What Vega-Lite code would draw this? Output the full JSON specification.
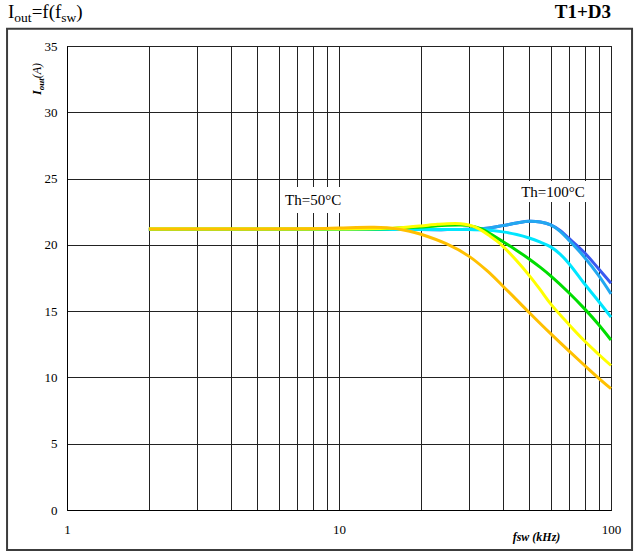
{
  "$schema": "https://vega.github.io/schema/vega-lite/v6.json",
  "width": 544,
  "height": 464,
  "autosize": {"type": "none"},
  "padding": {"left": 67, "top": 46, "right": 29, "bottom": 50},
  "background": "white",
  "config": {
    "font": "Liberation Serif",
    "view": {"stroke": "#000", "strokeWidth": 1},
    "text": {"font": "Liberation Serif", "color": "#000"}
  },
  "datasets": {
    "curves": [
      {"Th": 100, "f": 2, "I": 21.15}, {"Th": 100, "f": 5, "I": 21.15}, {"Th": 100, "f": 10, "I": 21.15}, {"Th": 100, "f": 20, "I": 21.15}, {"Th": 100, "f": 25, "I": 21.15}, {"Th": 100, "f": 30, "I": 21.17}, {"Th": 100, "f": 35, "I": 21.25}, {"Th": 100, "f": 40, "I": 21.45}, {"Th": 100, "f": 45, "I": 21.65}, {"Th": 100, "f": 50, "I": 21.78}, {"Th": 100, "f": 55, "I": 21.72}, {"Th": 100, "f": 60, "I": 21.5}, {"Th": 100, "f": 65, "I": 21.08}, {"Th": 100, "f": 70, "I": 20.5}, {"Th": 100, "f": 80, "I": 19.4}, {"Th": 100, "f": 90, "I": 18.2}, {"Th": 100, "f": 100, "I": 17.1},
      {"Th": 90, "f": 2, "I": 21.15}, {"Th": 90, "f": 5, "I": 21.15}, {"Th": 90, "f": 10, "I": 21.15}, {"Th": 90, "f": 20, "I": 21.15}, {"Th": 90, "f": 25, "I": 21.15}, {"Th": 90, "f": 30, "I": 21.17}, {"Th": 90, "f": 35, "I": 21.25}, {"Th": 90, "f": 40, "I": 21.45}, {"Th": 90, "f": 45, "I": 21.65}, {"Th": 90, "f": 50, "I": 21.78}, {"Th": 90, "f": 55, "I": 21.72}, {"Th": 90, "f": 60, "I": 21.5}, {"Th": 90, "f": 65, "I": 21.02}, {"Th": 90, "f": 70, "I": 20.35}, {"Th": 90, "f": 80, "I": 19.05}, {"Th": 90, "f": 90, "I": 17.7}, {"Th": 90, "f": 100, "I": 16.3},
      {"Th": 80, "f": 2, "I": 21.15}, {"Th": 80, "f": 5, "I": 21.15}, {"Th": 80, "f": 10, "I": 21.15}, {"Th": 80, "f": 20, "I": 21.15}, {"Th": 80, "f": 30, "I": 21.15}, {"Th": 80, "f": 35, "I": 21.12}, {"Th": 80, "f": 40, "I": 20.98}, {"Th": 80, "f": 45, "I": 20.78}, {"Th": 80, "f": 50, "I": 20.52}, {"Th": 80, "f": 55, "I": 20.2}, {"Th": 80, "f": 60, "I": 19.85}, {"Th": 80, "f": 65, "I": 19.3}, {"Th": 80, "f": 70, "I": 18.6}, {"Th": 80, "f": 80, "I": 17.05}, {"Th": 80, "f": 90, "I": 15.75}, {"Th": 80, "f": 100, "I": 14.55},
      {"Th": 70, "f": 2, "I": 21.2}, {"Th": 70, "f": 5, "I": 21.2}, {"Th": 70, "f": 10, "I": 21.2}, {"Th": 70, "f": 15, "I": 21.22}, {"Th": 70, "f": 20, "I": 21.35}, {"Th": 70, "f": 25, "I": 21.48}, {"Th": 70, "f": 28, "I": 21.5}, {"Th": 70, "f": 30, "I": 21.45}, {"Th": 70, "f": 33, "I": 21.25}, {"Th": 70, "f": 35, "I": 20.98}, {"Th": 70, "f": 40, "I": 20.25}, {"Th": 70, "f": 45, "I": 19.58}, {"Th": 70, "f": 50, "I": 18.94}, {"Th": 70, "f": 55, "I": 18.3}, {"Th": 70, "f": 60, "I": 17.66}, {"Th": 70, "f": 70, "I": 16.39}, {"Th": 70, "f": 80, "I": 15.17}, {"Th": 70, "f": 90, "I": 13.99}, {"Th": 70, "f": 100, "I": 12.82},
      {"Th": 60, "f": 2, "I": 21.2}, {"Th": 60, "f": 5, "I": 21.2}, {"Th": 60, "f": 10, "I": 21.2}, {"Th": 60, "f": 15, "I": 21.25}, {"Th": 60, "f": 18, "I": 21.35}, {"Th": 60, "f": 20, "I": 21.43}, {"Th": 60, "f": 23, "I": 21.55}, {"Th": 60, "f": 25, "I": 21.6}, {"Th": 60, "f": 28, "I": 21.6}, {"Th": 60, "f": 30, "I": 21.5}, {"Th": 60, "f": 32, "I": 21.3}, {"Th": 60, "f": 34, "I": 21.0}, {"Th": 60, "f": 36, "I": 20.65}, {"Th": 60, "f": 38, "I": 20.3}, {"Th": 60, "f": 40, "I": 19.9}, {"Th": 60, "f": 45, "I": 18.8}, {"Th": 60, "f": 50, "I": 17.7}, {"Th": 60, "f": 55, "I": 16.6}, {"Th": 60, "f": 60, "I": 15.55}, {"Th": 60, "f": 70, "I": 14.0}, {"Th": 60, "f": 80, "I": 12.75}, {"Th": 60, "f": 90, "I": 11.75}, {"Th": 60, "f": 100, "I": 10.9},
      {"Th": 50, "f": 2, "I": 21.2}, {"Th": 50, "f": 5, "I": 21.2}, {"Th": 50, "f": 8, "I": 21.22}, {"Th": 50, "f": 10, "I": 21.27}, {"Th": 50, "f": 13, "I": 21.33}, {"Th": 50, "f": 15, "I": 21.3}, {"Th": 50, "f": 18, "I": 21.05}, {"Th": 50, "f": 20, "I": 20.8}, {"Th": 50, "f": 25, "I": 20.05}, {"Th": 50, "f": 30, "I": 19.15}, {"Th": 50, "f": 35, "I": 18.05}, {"Th": 50, "f": 40, "I": 16.9}, {"Th": 50, "f": 45, "I": 15.85}, {"Th": 50, "f": 50, "I": 14.9}, {"Th": 50, "f": 60, "I": 13.3}, {"Th": 50, "f": 70, "I": 12.0}, {"Th": 50, "f": 80, "I": 10.9}, {"Th": 50, "f": 90, "I": 9.95}, {"Th": 50, "f": 100, "I": 9.15}
    ],
    "notes": [
      {"label": "Th=50°C", "f": 8.03, "v": 23.38, "f0": 6.17, "f1": 10.26, "v0": 22.4, "v1": 24.36},
      {"label": "Th=100°C", "f": 61.2, "v": 24.02, "f0": 45.5, "f1": 81.5, "v0": 23.23, "v1": 24.82}
    ]
  },
  "layer": [
    {
      "data": {"name": "curves"},
      "mark": {"type": "line", "strokeWidth": 3, "interpolate": "catmull-rom"},
      "encoding": {
        "x": {
          "field": "f", "type": "quantitative",
          "scale": {"type": "log", "domain": [1, 100], "nice": false},
          "axis": {
            "values": [1, 2, 3, 4, 5, 6, 7, 8, 9, 10, 20, 30, 40, 50, 60, 70, 80, 90, 100],
            "labelExpr": "indexof([1, 10, 100], datum.value) >= 0 ? format(datum.value, 'd') : ''",
            "labelOverlap": false, "labelFlush": false,
            "ticks": false, "domainColor": "#000", "domainWidth": 1,
            "grid": true, "gridColor": "#222", "gridWidth": 1, "gridOpacity": 1,
            "labelFont": "Liberation Serif", "labelFontSize": 13, "labelColor": "#000", "labelPadding": 13,
            "title": "fsw (kHz)", "titleFont": "Liberation Serif", "titleFontStyle": "italic", "titleFontWeight": "bold",
            "titleFontSize": 12, "titleColor": "#000", "titleX": 469, "titleY": 26, "titleAlign": "center", "titleBaseline": "middle"
          }
        },
        "y": {
          "field": "I", "type": "quantitative",
          "scale": {"domain": [0, 35], "nice": false, "zero": false},
          "axis": {
            "values": [0, 5, 10, 15, 20, 25, 30, 35],
            "ticks": false, "domainColor": "#000", "domainWidth": 1,
            "grid": true, "gridColor": "#222", "gridWidth": 1, "gridOpacity": 1,
            "labelFont": "Liberation Serif", "labelFontSize": 13, "labelColor": "#000", "labelPadding": 10, "labelFlush": false,
            "title": null
          }
        },
        "color": {
          "field": "Th", "type": "nominal",
          "scale": {"domain": [100, 90, 80, 70, 60, 50], "range": ["#3a5af0", "#22a8f0", "#00e6ff", "#00dd00", "#ffff00", "#ffc000"]},
          "legend": null
        }
      }
    },
    {
      "data": {"name": "notes"},
      "mark": {"type": "rect", "fill": "white", "stroke": null},
      "encoding": {
        "x": {"field": "f0", "type": "quantitative"},
        "x2": {"field": "f1"},
        "y": {"field": "v0", "type": "quantitative"},
        "y2": {"field": "v1"}
      }
    },
    {
      "data": {"name": "notes"},
      "mark": {"type": "text", "fontSize": 15, "align": "center", "baseline": "middle", "font": "Liberation Serif", "color": "#000"},
      "encoding": {
        "x": {"field": "f", "type": "quantitative"},
        "y": {"field": "v", "type": "quantitative"},
        "text": {"field": "label"}
      }
    },
    {
      "data": {"values": [{}]},
      "mark": {"type": "rect", "fillOpacity": 0, "stroke": "#3c3c3c", "strokeWidth": 2},
      "encoding": {
        "x": {"datum": 0.602, "type": "quantitative"},
        "x2": {"datum": 119.5},
        "y": {"datum": 36.3, "type": "quantitative"},
        "y2": {"datum": -3.02}
      }
    },
    {
      "data": {"values": [{}]},
      "mark": {"type": "text", "text": "I", "fontSize": 19, "align": "left", "baseline": "alphabetic", "dx": 0},
      "encoding": {"x": {"datum": 0.607, "type": "quantitative"}, "y": {"datum": 37.11, "type": "quantitative"}}
    },
    {
      "data": {"values": [{}]},
      "mark": {"type": "text", "text": "out", "fontSize": 13.5, "align": "left", "baseline": "alphabetic", "dx": 6.3, "dy": 4},
      "encoding": {"x": {"datum": 0.607, "type": "quantitative"}, "y": {"datum": 37.11, "type": "quantitative"}}
    },
    {
      "data": {"values": [{}]},
      "mark": {"type": "text", "text": "=f(f", "fontSize": 19, "align": "left", "baseline": "alphabetic", "dx": 23.6},
      "encoding": {"x": {"datum": 0.607, "type": "quantitative"}, "y": {"datum": 37.11, "type": "quantitative"}}
    },
    {
      "data": {"values": [{}]},
      "mark": {"type": "text", "text": "sw", "fontSize": 13.5, "align": "left", "baseline": "alphabetic", "dx": 53.3, "dy": 4},
      "encoding": {"x": {"datum": 0.607, "type": "quantitative"}, "y": {"datum": 37.11, "type": "quantitative"}}
    },
    {
      "data": {"values": [{}]},
      "mark": {"type": "text", "text": ")", "fontSize": 19, "align": "left", "baseline": "alphabetic", "dx": 68.3},
      "encoding": {"x": {"datum": 0.607, "type": "quantitative"}, "y": {"datum": 37.11, "type": "quantitative"}}
    },
    {
      "data": {"values": [{}]},
      "mark": {"type": "text", "text": "T1+D3", "fontSize": 19, "fontWeight": "bold", "align": "right", "baseline": "alphabetic"},
      "encoding": {"x": {"datum": 100, "type": "quantitative"}, "y": {"datum": 37.11, "type": "quantitative"}}
    },
    {
      "data": {"values": [{}]},
      "mark": {"type": "text", "text": "I", "fontSize": 12, "fontStyle": "italic", "fontWeight": "bold", "angle": 270, "align": "left", "baseline": "alphabetic"},
      "encoding": {"x": {"datum": 0.8025, "type": "quantitative"}, "y": {"datum": 31.3, "type": "quantitative"}}
    },
    {
      "data": {"values": [{}]},
      "mark": {"type": "text", "text": "out", "fontSize": 9, "fontStyle": "italic", "fontWeight": "bold", "angle": 270, "align": "left", "baseline": "alphabetic", "dx": 4.7, "dy": 3},
      "encoding": {"x": {"datum": 0.8025, "type": "quantitative"}, "y": {"datum": 31.3, "type": "quantitative"}}
    },
    {
      "data": {"values": [{}]},
      "mark": {"type": "text", "text": " (A)", "fontSize": 12, "fontStyle": "italic", "angle": 270, "align": "left", "baseline": "alphabetic", "dx": 16.7},
      "encoding": {"x": {"datum": 0.8025, "type": "quantitative"}, "y": {"datum": 31.3, "type": "quantitative"}}
    }
  ]
}
